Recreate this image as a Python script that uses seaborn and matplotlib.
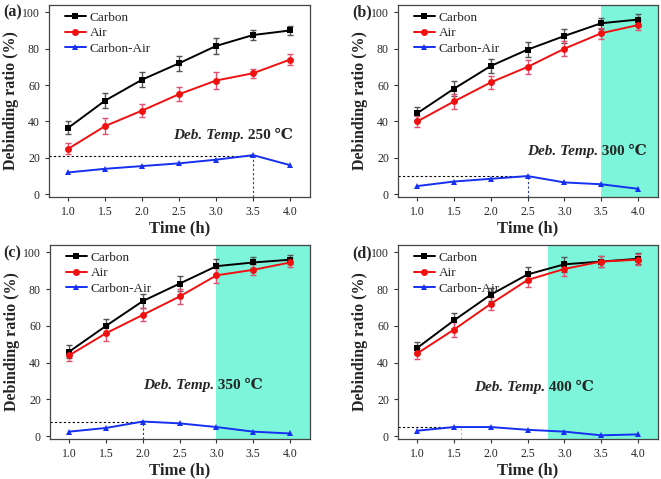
import matplotlib
matplotlib.use("Agg")
import matplotlib.pyplot as plt
import numpy as np
import pandas as pd
import seaborn as sns

# time points (h)
time_h = [1.0, 1.5, 2.0, 2.5, 3.0, 3.5, 4.0]

# debinding ratio (%)
carbon_250 = [36.5, 51.5, 63.0, 72.0, 81.5, 87.5, 90.0]
air_250 = [25.0, 37.5, 46.0, 55.0, 62.5, 66.5, 74.0]
diff_250 = [12.0, 14.0, 15.5, 17.0, 19.0, 21.5, 16.0]
carbon_err_250 = [3.5, 4.0, 4.0, 4.0, 4.5, 3.0, 2.5]
air_err_250 = [3.0, 4.5, 3.5, 4.0, 4.5, 2.5, 3.0]

carbon_300 = [44.5, 58.0, 70.5, 79.5, 87.0, 94.0, 96.0]
air_300 = [40.0, 51.0, 61.5, 70.0, 80.0, 88.5, 93.0]
diff_300 = [4.5, 7.0, 8.5, 10.0, 6.5, 5.5, 3.0]
carbon_err_300 = [3.5, 4.0, 4.0, 4.0, 4.0, 3.0, 3.0]
air_err_300 = [3.0, 4.0, 3.5, 4.0, 4.0, 3.0, 3.0]

carbon_350 = [46.0, 60.0, 73.5, 83.0, 92.5, 94.5, 96.0]
air_350 = [44.0, 56.0, 66.0, 76.0, 87.5, 90.5, 94.5]
diff_350 = [2.5, 4.5, 8.0, 7.0, 5.0, 2.5, 1.5]
carbon_err_350 = [3.5, 4.0, 4.0, 4.0, 4.0, 3.0, 2.5]
air_err_350 = [3.0, 4.0, 3.5, 4.0, 4.0, 3.0, 2.5]

carbon_400 = [48.0, 63.0, 77.0, 88.0, 93.5, 95.0, 96.5]
air_400 = [45.0, 58.0, 72.0, 85.0, 91.0, 95.0, 96.0]
diff_400 = [3.0, 5.0, 5.0, 3.5, 2.5, 0.5, 1.0]
carbon_err_400 = [3.5, 4.0, 3.5, 4.0, 4.0, 3.0, 3.0]
air_err_400 = [3.0, 4.0, 3.5, 4.0, 4.0, 3.0, 3.0]

panel_labels = ["(a)", "(b)", "(c)", "(d)"]
temps = ["250", "300", "350", "400"]
shade_start = [None, 3.5, 3.0, 2.78]
peak_x = [3.5, 2.5, 2.0, 1.6]
peak_y = [21.0, 10.0, 7.5, 5.0]

sns.set_style("ticks")
plt.rcParams["font.family"] = ["Liberation Serif", "DejaVu Serif"]

fig = plt.figure(figsize=(6.61, 4.79), dpi=100)
W, H = 661.0, 479.0

# axes boxes in pixels: left, top, right, bottom
boxes = [(49, 5, 310, 197), (398, 5, 658, 197),
         (50, 245, 310, 439), (398, 245, 658, 439)]
label_pos = [(3, 12), (352, 12), (3, 253), (352, 253)]
text_pos = [(2.42, 28.5), (2.49, 20.0), (2.0, 24.0), (1.77, 23.0)]

series = [
    (carbon_250, air_250, diff_250, carbon_err_250, air_err_250),
    (carbon_300, air_300, diff_300, carbon_err_300, air_err_300),
    (carbon_350, air_350, diff_350, carbon_err_350, air_err_350),
    (carbon_400, air_400, diff_400, carbon_err_400, air_err_400),
]

for i, (c, a, d, ce, ae) in enumerate(series):
    l, t, r, b = boxes[i]
    ax = fig.add_axes([l / W, (H - b) / H, (r - l) / W, (b - t) / H])
    ax.set_xlim(0.74, 4.27)
    ax.set_ylim(-1.5, 104)

    if shade_start[i] is not None:
        ax.axvspan(shade_start[i], 4.27, color="#7cf5da", zorder=0, lw=0)

    df = pd.DataFrame({"time": time_h * 3,
                       "ratio": c + a + d,
                       "kind": ["Carbon"] * 7 + ["Air"] * 7 + ["Carbon-Air"] * 7})

    ax.errorbar(time_h, c, yerr=ce, fmt="none", ecolor="#555555",
                elinewidth=1, capsize=2, zorder=2)
    ax.errorbar(time_h, a, yerr=ae, fmt="none", ecolor="#e05070",
                elinewidth=1, capsize=2, zorder=2)

    sns.lineplot(data=df, x="time", y="ratio", hue="kind", style="kind",
                 palette={"Carbon": "black", "Air": "#f01010", "Carbon-Air": "#1530f0"},
                 markers={"Carbon": "s", "Air": "o", "Carbon-Air": "^"},
                 dashes=False, markersize=5, markeredgewidth=0, lw=1.4,
                 ax=ax, zorder=3)

    # dotted guide lines to the peak of Carbon-Air
    ax.plot([0.74, peak_x[i]], [peak_y[i], peak_y[i]], ls=(0, (2, 2)),
            color="black", lw=0.8, zorder=1)
    ax.plot([peak_x[i], peak_x[i]], [-1.5, peak_y[i]], ls=(0, (2, 2)),
            color="#bbbbbb" if i == 3 else "#2a3a90", lw=0.8, zorder=1)

    ax.legend(loc="upper left", bbox_to_anchor=(0.035, 1.0), frameon=False,
              fontsize=9.5, handlelength=1.6, handletextpad=0.3,
              borderaxespad=0.1, labelspacing=0.25)

    ax.set_xticks(time_h)
    ax.set_xticklabels([f"{v:.1f}" for v in time_h])
    ax.set_yticks([0, 20, 40, 60, 80, 100])
    ax.tick_params(labelsize=8.5, length=3, width=0.8, color="#333333")
    for s in ax.spines.values():
        s.set_color("#444444")
        s.set_linewidth(0.9)
    ax.set_xlabel("Time (h)", fontsize=12, fontweight="bold", labelpad=2)
    ax.set_ylabel("Debinding ratio (%)", fontsize=11.5, fontweight="bold", labelpad=2)

    tx, ty = text_pos[i]
    t1 = ax.text(tx, ty, "Deb. Temp.", fontsize=11, fontweight="bold",
                 fontstyle="italic", va="bottom", zorder=4)
    ax.annotate(" " + temps[i] + " \u2103", xy=(1, 0), xycoords=t1,
                fontsize=11, fontweight="bold", va="bottom", zorder=4)

    lx, ly = label_pos[i]
    fig.text(lx / W, 1 - ly / H, panel_labels[i], fontsize=11.5,
             fontweight="bold", va="center", ha="left")

fig.savefig("out.png", dpi=100)
